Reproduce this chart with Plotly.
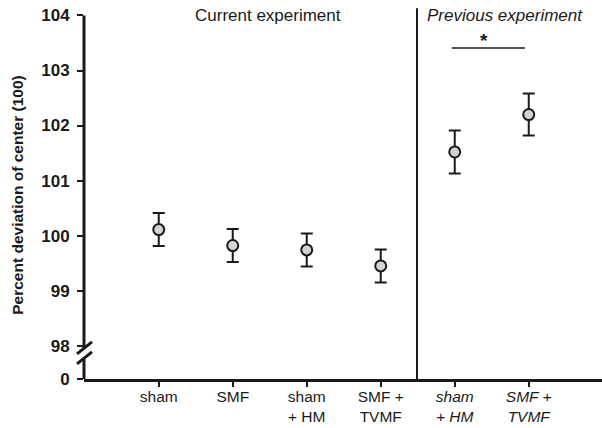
import plotly.graph_objects as go

categories = ["sham", "SMF", "sham<br>+ HM", "SMF +<br>TVMF", "<i>sham<br>+ HM</i>", "<i>SMF +<br>TVMF</i>"]
means = [100.11, 99.82, 99.74, 99.45, 101.52, 102.20]
errors = [0.30, 0.30, 0.30, 0.30, 0.39, 0.38]
tick_vals = [97.395, 98, 99, 100, 101, 102, 103, 104]
tick_text = ["0", "98", "99", "100", "101", "102", "103", "104"]

FONT = "Liberation Sans, Arial, sans-serif"
xs = list(range(len(categories)))

fig = go.Figure()
fig.add_trace(go.Scatter(
    x=xs, y=means, mode="markers",
    marker=dict(symbol="circle", size=11, color="#d3d3d3", line=dict(color="#1a1a1a", width=2)),
    error_y=dict(type="data", array=errors, visible=True, color="#1a1a1a", thickness=2, width=6),
    showlegend=False, cliponaxis=False,
))

y0 = tick_vals[0]
shapes = [
    # y axis line (broken)
    dict(type="line", xref="paper", yref="y", x0=0, x1=0, y0=y0, y1=97.768, line=dict(color="#1a1a1a", width=3)),
    dict(type="line", xref="paper", yref="y", x0=0, x1=0, y0=97.949, y1=104.0, line=dict(color="#1a1a1a", width=3)),
    # break marks
    dict(type="line", xref="paper", yref="y", xsizemode="pixel", ysizemode="pixel",
         xanchor=0, yanchor=97.87, x0=-7, x1=8, y0=-1, y1=11, line=dict(color="#1a1a1a", width=3)),
    dict(type="line", xref="paper", yref="y", xsizemode="pixel", ysizemode="pixel",
         xanchor=0, yanchor=97.87, x0=-7, x1=8, y0=-11, y1=1, line=dict(color="#1a1a1a", width=3)),
    # divider
    dict(type="line", xref="x", yref="y", x0=3.49, x1=3.49, y0=y0, y1=104.13, line=dict(color="#1a1a1a", width=2)),
    # significance bar
    dict(type="line", xref="x", yref="y", x0=3.96, x1=4.95, y0=103.41, y1=103.41, line=dict(color="#1a1a1a", width=1.5)),
]

annotations = [
    dict(text="Current experiment", x=1.47, y=104.0, xref="x", yref="y", showarrow=False,
         font=dict(family=FONT, size=17, color="#1a1a1a"), xanchor="center", yanchor="middle"),
    dict(text="<i>Previous experiment</i>", x=4.68, y=104.0, xref="x", yref="y", showarrow=False,
         font=dict(family=FONT, size=17, color="#1a1a1a"), xanchor="center", yanchor="middle"),
    dict(text="<b>*</b>", x=4.39, y=103.31, xref="x", yref="y", showarrow=False,
         font=dict(family=FONT, size=19, color="#1a1a1a"), xanchor="center", yanchor="bottom"),
    dict(text="<b>Percent deviation of center (100)</b>", x=-0.1274, y=0.49, xref="paper", yref="paper",
         showarrow=False, textangle=-90, font=dict(family=FONT, size=15.5, color="#1a1a1a"),
         xanchor="center", yanchor="middle"),
]

fig.update_layout(
    width=602, height=428,
    margin=dict(l=84, r=0, t=5, b=49),
    paper_bgcolor="white", plot_bgcolor="white",
    shapes=shapes, annotations=annotations,
    font=dict(family=FONT, color="#1a1a1a"),
    xaxis=dict(range=[-1.01, 5.99], tickvals=xs, ticktext=categories, showgrid=False, zeroline=False,
               automargin=False, ticklabelstandoff=-4,
               showline=True, linecolor="#1a1a1a", linewidth=3, ticks="outside", ticklen=5, tickwidth=2,
               tickcolor="#1a1a1a", tickfont=dict(family=FONT, size=15.5, color="#1a1a1a")),
    yaxis=dict(range=[y0, 104.19], tickvals=tick_vals, ticktext=["<b>%s</b>" % t for t in tick_text],
               automargin=False,
               showgrid=False, zeroline=False, showline=False, ticks="outside", ticklen=6, tickwidth=2,
               ticklabelstandoff=4,
               tickcolor="#1a1a1a", tickfont=dict(family=FONT, size=17, color="#1a1a1a")),
)

fig.write_html("out.html")
